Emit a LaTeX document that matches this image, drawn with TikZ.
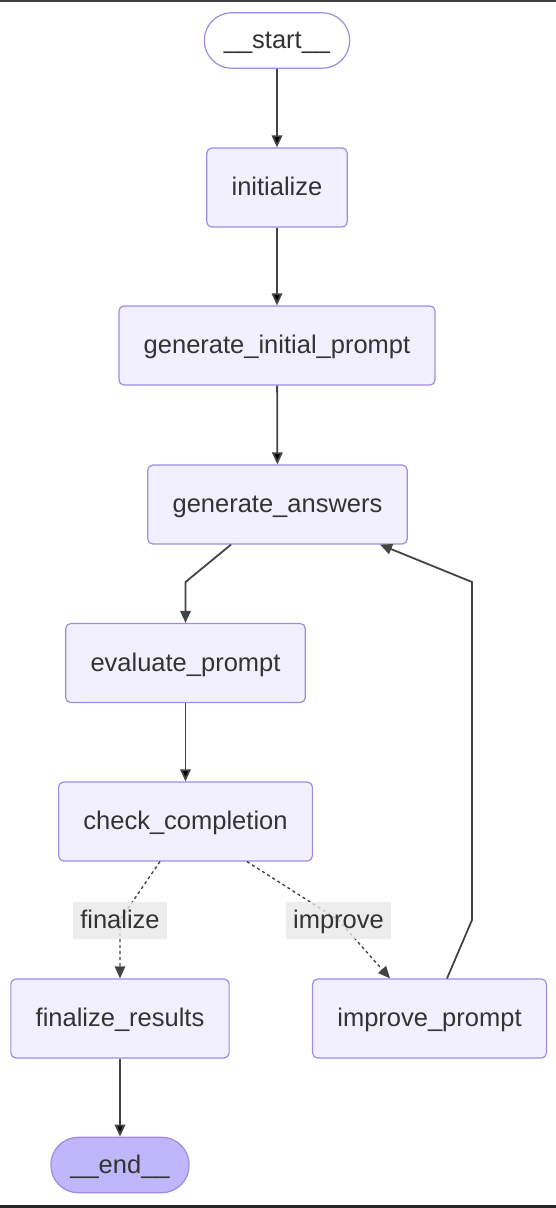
\documentclass[tikz,border=0pt]{standalone}
\usepackage{fontspec}
\setmainfont{Liberation Sans}
\usetikzlibrary{arrows.meta}
\usepackage{color}
\definecolor{nodefill}{HTML}{F2F0FF}
\definecolor{nodeline}{HTML}{A08AE4}
\definecolor{endfill}{HTML}{BFB6FC}
\definecolor{edgeline}{HTML}{333333}
\definecolor{wireline}{HTML}{444444}
\definecolor{labelfill}{HTML}{E8E8E8}

\begin{document}
\begin{tikzpicture}[
            > = {Triangle[length=12pt,width=10.5pt]}, % arrow head style
            node distance = 158.5pt, % distance between nodes
            every node/.style = {font=\fontsize{25.5}{30}\selectfont, text=edgeline}
        ]

        \tikzstyle{task}=[
            draw = nodeline,
            line width = 1.2pt,
            fill = nodefill,
            rounded corners = 5pt,
            minimum height = 79pt,
            inner xsep = 24.8pt,
            text height = 22.5pt,
            text depth = 6.5pt
        ]
        \tikzstyle{terminal}=[task, fill = white, rounded corners = 27.5pt, minimum height = 55.5pt, inner xsep = 19.5pt]
        \tikzstyle{cond}=[fill = labelfill, fill opacity = 0.8, text opacity = 1, minimum height = 37pt, inner xsep = 7pt, text height = 22.5pt, text depth = 6.5pt]
        \tikzstyle{flow}=[draw = wireline, line width = 1.8pt]
        \tikzstyle{maybe}=[flow, line width = 1.4pt, dash pattern = on 3pt off 3pt]

        \useasboundingbox (0,0) rectangle (556pt,-1208pt);
        \fill[black!75] (0,0) rectangle (556pt,-1.5pt);
        \fill[black!85] (0,-1204.5pt) rectangle (556pt,-1208pt);

        \node[terminal] (start) at (277pt,-40.5pt) {\_\_start\_\_};
        \node[task] (init) [below of=start, node distance=147pt] {initialize};
        \node[task] (gip) [below of=init, node distance=158pt] {generate\_initial\_prompt};
        \node[task] (ga) [below of=gip, node distance=159pt, xshift=0.5pt] {generate\_answers};
        \node[task] (eval) [below of=ga, xshift=-92pt] {evaluate\_prompt};
        \node[task] (check) [below of=eval] {check\_completion};
        \node[task] (fin) [below of=check, node distance=197pt, xshift=-65.5pt] {finalize\_results};
        \node[task] (imp) [right of=fin, node distance=309.5pt] {improve\_prompt};
        \node[terminal, fill=endfill] (end) [below of=fin, node distance=146.5pt] {\_\_end\_\_};

        \coordinate (lf) at (120pt,-920pt);
        \coordinate (li) at (338.5pt,-920pt);
        \coordinate (b1) at (185.5pt,-582pt);
        \coordinate (b2) at (472pt,-920pt);
        \coordinate (b3) at (472pt,-582pt);

	\path[flow,->] (start) edge (init);
	\path[flow,->] (init) edge (gip);
	\path[flow,->] (gip) edge (ga);
	\draw[flow,->] ([xshift=-46.5pt]ga.south) -- (b1) -- (eval);
	\path[flow,->] (eval) edge (check);
	\draw[maybe,->] ([xshift=-25.5pt]check.south) -- (lf) -- (fin);
	\draw[maybe,->] ([xshift=61.5pt]check.south) -- (li) -- ([xshift=-39.5pt]imp.north);
	\draw[flow,->] ([xshift=17.5pt]imp.north) -- (b2) -- (b3) -- ([xshift=102.5pt]ga.south);
	\path[flow,->] (fin) edge (end);

        \node[cond] (lblfin) at (lf) {finalize};
        \node[cond] (lblimp) at (li) {improve};
    \end{tikzpicture}
\end{document}
